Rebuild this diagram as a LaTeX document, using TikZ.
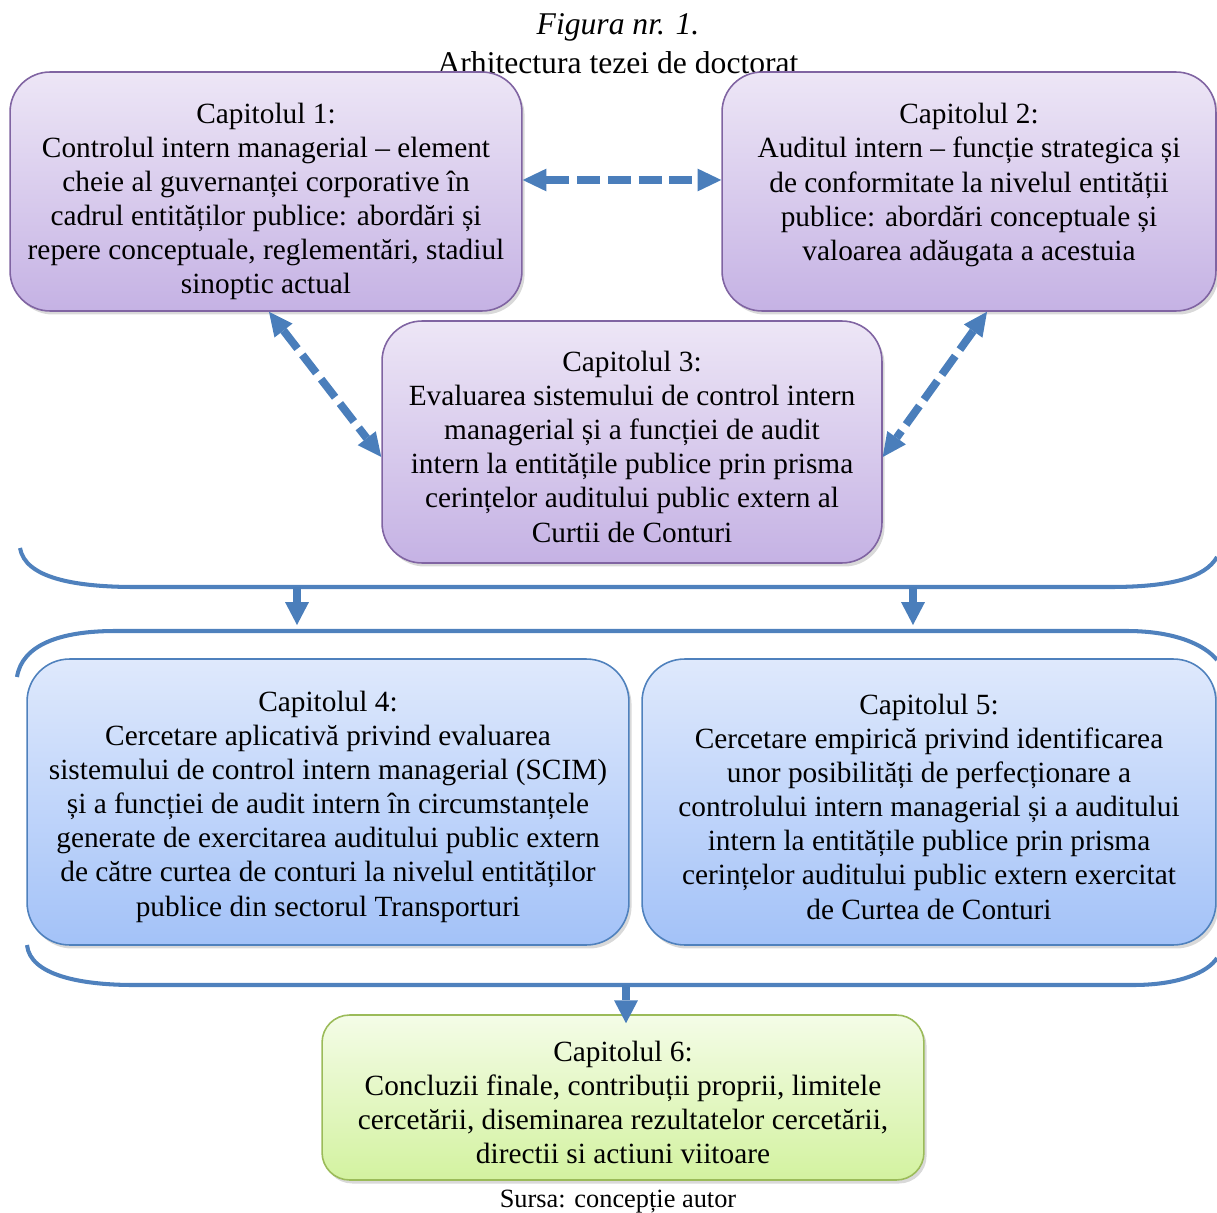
\documentclass[tikz,border=0pt]{standalone}
\usepackage{fontspec}
\setmainfont{Liberation Serif}
\usetikzlibrary{arrows.meta, positioning, calc, shadows}

\definecolor{violettop}{HTML}{EDE6F6}
\definecolor{violetbot}{HTML}{C5B2E4}
\definecolor{violetline}{HTML}{8064A2}
\definecolor{bluetop}{HTML}{DFE9FC}
\definecolor{bluebot}{HTML}{A3C2F8}
\definecolor{blueline}{HTML}{4F81BD}
\definecolor{greentop}{HTML}{F4FCE7}
\definecolor{greenbot}{HTML}{D3F2A0}
\definecolor{greenline}{HTML}{9BBB59}
\definecolor{arrowblue}{HTML}{4A7EBB}
\newcommand{\capsus}[1][17pt]{\rule{0pt}{#1}}

\begin{document}
\begin{tikzpicture}[x=0.02cm, y=-0.02cm, font=\fontsize{16.7}{19.4}\selectfont,
    every node/.style={align=center},
    capbox/.style={draw, line width=0.9pt, inner sep=0pt,
        drop shadow={opacity=0.3, shadow xshift=1.5pt, shadow yshift=-2pt}},
    violetbox/.style={capbox, rounded corners=0.8cm, draw=violetline, top color=violettop, bottom color=violetbot, minimum width=#1},
    bluebox/.style={capbox, rounded corners=0.85cm, draw=blueline, top color=bluetop, bottom color=bluebot, minimum width=#1, minimum height=5.72cm},
    greenbox/.style={capbox, rounded corners=0.55cm, draw=greenline, top color=greentop, bottom color=greenbot, minimum width=#1, minimum height=3.3cm},
    dasharrow/.style={arrowblue, line width=4.5pt, dash pattern=on 13pt off 4.5pt,
        {Triangle[width=13pt,length=13.5pt,line width=0pt]}-{Triangle[width=13pt,length=13.5pt,line width=0pt]}},
    downarrow/.style={arrowblue, line width=5.1pt, -{Triangle[width=13.6pt,length=13pt,line width=0pt]}},
    brace/.style={blueline, line width=2.3pt}]
    \useasboundingbox ({0},{0}) rectangle ({1217},{1213});

    \node[font=\fontsize{18}{21}\selectfont\itshape] (titlu) at ({618},{27}) {Figura nr. 1.};
    \node[font=\fontsize{18}{21}\selectfont] (subtitlu) at ({618},{63}) {Arhitectura tezei de doctorat};

    \node[violetbox=10.24cm, minimum height=4.78cm] (cap1) at ({266},{191.5}) {\capsus[22.8pt]Capitolul 1:\\Controlul intern managerial – element\\cheie al guvernanței corporative în\\cadrul entităților publice: abordări și\\repere conceptuale, reglementări, stadiul\\sinoptic actual};
    \node[violetbox=9.88cm, minimum height=4.78cm] (cap2) at ({969},{191.5}) {\capsus Capitolul 2:\\Auditul intern – funcție strategica și\\de conformitate la nivelul entității\\publice: abordări conceptuale și\\valoarea adăugata a acestuia\\[-3pt]\mbox{}};
    \node[violetbox=10cm, minimum height=4.84cm] (cap3) at ({632},{442}) {\capsus Capitolul 3:\\Evaluarea sistemului de control intern\\managerial și a funcției de audit\\intern la entitățile publice prin prisma\\cerințelor auditului public extern al\\Curtii de Conturi};

    \draw[dasharrow] ($(cap1.east)+(0,-11.5)$) -- ($(cap2.west)+(0,-11.5)$);
    \draw[dasharrow] ($(cap1.south)+(3,0)$) -- ($(cap3.west)+(0,15)$);
    \draw[dasharrow] ($(cap2.south)+(18,0)$) -- ($(cap3.east)+(0,15)$);

    \draw[brace] ({20},{548}) .. controls ({25},{578}) and ({75},{587}) .. ({135},{587}) -- ({1110},{587}) .. controls ({1170},{587}) and ({1205},{578}) .. ({1217},{557});
    \coordinate (sus1) at ({297},{587});
    \coordinate (sus2) at ({913},{587});
    \coordinate (jos1) at ({297},{625});
    \coordinate (jos2) at ({913},{625});
    \draw[downarrow] (sus1) -- (jos1);
    \draw[downarrow] (sus2) -- (jos2);

    \draw[brace] ({17},{677}) .. controls ({22},{645}) and ({60},{631}) .. ({115},{631}) -- ({1127},{631}) .. controls ({1175},{631}) and ({1205},{645}) .. ({1217},{660});

    \node[bluebox=12.04cm] (cap4) at ({328},{802}) {\capsus Capitolul 4:\\Cercetare aplicativă privind evaluarea\\sistemului de control intern managerial (SCIM)\\și a funcției de audit intern în circumstanțele\\generate de exercitarea auditului public extern\\de către curtea de conturi la nivelul entităților\\publice din sectorul Transporturi};
    \node[bluebox=11.48cm] (cap5) at ({929},{802}) {\capsus Capitolul 5:\\Cercetare empirică privind identificarea\\unor posibilități de perfecționare a\\controlului intern managerial și a auditului\\intern la entitățile publice prin prisma\\cerințelor auditului public extern exercitat\\de Curtea de Conturi};

    \draw[brace] ({27},{945}) .. controls ({30},{975}) and ({80},{985}) .. ({134},{985}) -- ({1133},{985}) .. controls ({1180},{985}) and ({1208},{972}) .. ({1217},{958});

    \node[greenbox=12.04cm] (cap6) at ({623},{1097.5}) {\capsus Capitolul 6:\\Concluzii finale, contribuții proprii, limitele\\cercetării, diseminarea rezultatelor cercetării,\\directii si actiuni viitoare};
    \coordinate (sus3) at ({626},{985});
    \draw[downarrow] (sus3) -- ($(cap6.north)+(3,9)$);

    \node[font=\fontsize{15}{18}\selectfont] (sursa) at ({618},{1202}) {Sursa: concepție autor};
\end{tikzpicture}
\end{document}
